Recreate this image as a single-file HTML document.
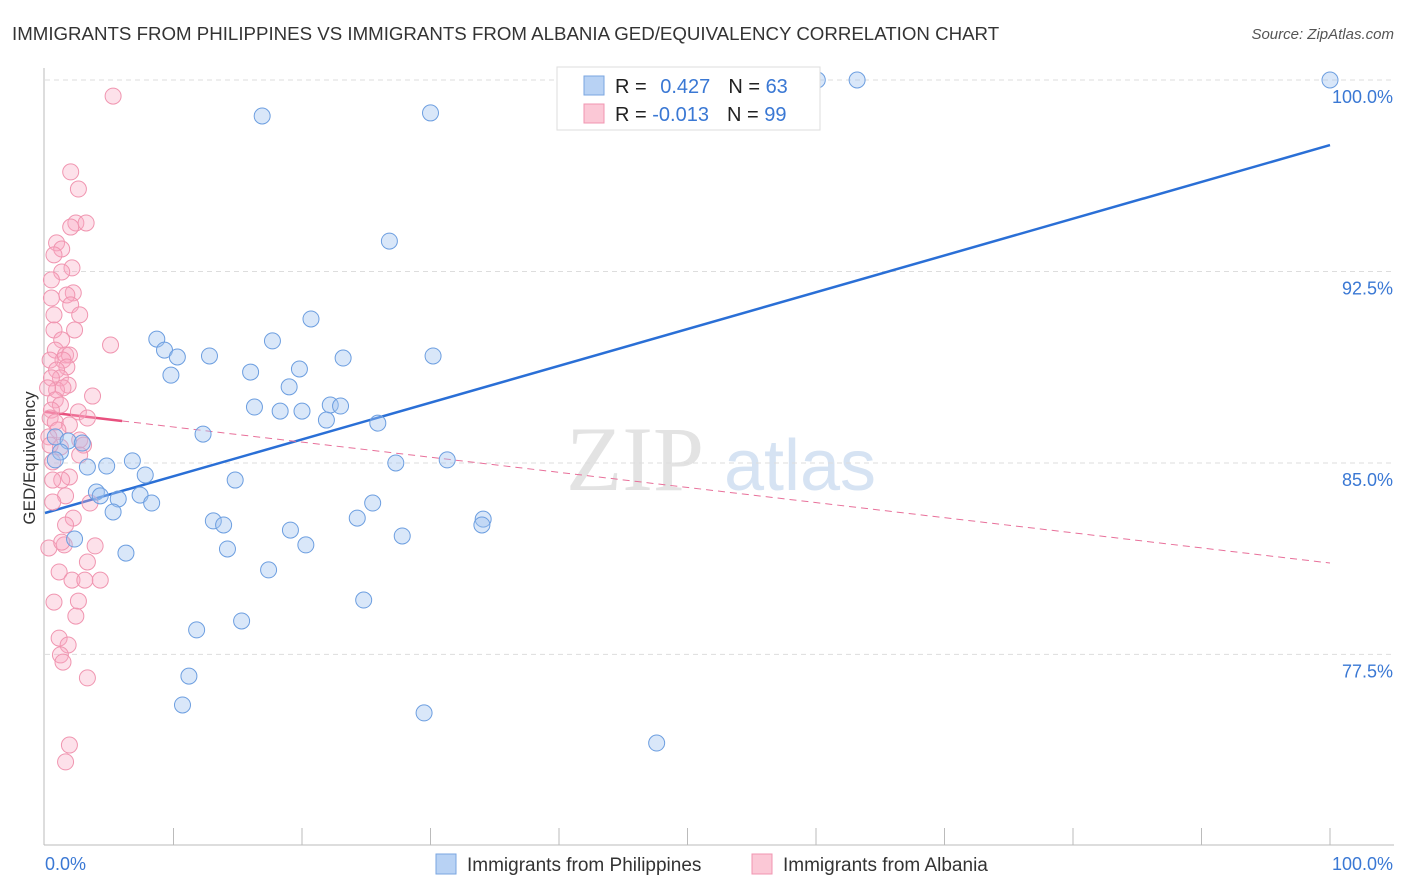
<!DOCTYPE html>
<html><head><meta charset="utf-8"><style>
body{margin:0;background:#fff;font-family:"Liberation Sans",sans-serif}
svg{display:block}
</style></head><body>
<svg id="chart" width="1406" height="892">
<text x="12" y="40" font-size="18.7" fill="#333">IMMIGRANTS FROM PHILIPPINES VS IMMIGRANTS FROM ALBANIA GED/EQUIVALENCY CORRELATION CHART</text>
<text x="1394" y="39" font-size="15" fill="#555" text-anchor="end" font-style="italic">Source: ZipAtlas.com</text>
<text x="35" y="458" font-size="17" fill="#333" text-anchor="middle" transform="rotate(-90 35 458)">GED/Equivalency</text>
<g><text x="635" y="490" font-size="92" fill="#e3e3e3" font-family="Liberation Serif" text-anchor="middle">ZIP</text><text x="800" y="490" font-size="72" fill="#d6e3f3" text-anchor="middle">atlas</text></g>
<g id="grid"></g><g id="axes"></g><g id="trends"></g><g id="pts"></g>
<g>
<rect x="557" y="67" width="263" height="63" fill="#fff" stroke="#ddd"/>
<rect x="584" y="76" width="20" height="19" fill="#b8d2f4" stroke="#7aa6e0"/>
<rect x="584" y="104" width="20" height="19" fill="#fbc8d6" stroke="#f095b0"/>
<text x="615" y="93" font-size="20" fill="#222">R = <tspan fill="#3a78d4" dx="8">0.427</tspan><tspan fill="#222" dx="18">N = </tspan><tspan fill="#3a78d4">63</tspan></text>
<text x="615" y="121" font-size="20" fill="#222">R = <tspan fill="#3a78d4">-0.013</tspan><tspan fill="#222" dx="18">N = </tspan><tspan fill="#3a78d4">99</tspan></text>
</g>
<g>
<rect x="436" y="854" width="20" height="20" fill="#b8d2f4" stroke="#7aa6e0"/>
<text x="467" y="871" font-size="19" fill="#333">Immigrants from Philippines</text>
<rect x="752" y="854" width="20" height="20" fill="#fbc8d6" stroke="#f095b0"/>
<text x="783" y="871" font-size="19" fill="#333">Immigrants from Albania</text>
</g>
</svg>
<script>
const yTicks=[100,92.5,85,77.5];
const yTickLabels=["100.0%","92.5%","85.0%","77.5%"];
const xTickLabels=["0.0%","100.0%"];
const blueX=[16.9,30.0,60.1,63.2,100,26.8,20.7,8.7,9.3,10.3,12.8,17.7,19.8,23.2,30.2,9.8,16.0,19.0,16.3,18.3,20.0,22.2,23.0,21.9,25.9,12.3,0.8,1.8,2.9,1.2,0.8,3.3,4.8,6.8,7.8,27.3,31.3,14.8,4.0,4.3,5.7,7.4,8.3,5.3,25.5,13.1,13.9,19.1,24.3,34.1,34.0,27.8,2.3,20.3,14.2,6.3,17.4,24.8,15.3,11.8,11.2,10.7,29.5,47.6];
const blueY=[98.59,98.71,100,100,100,93.69,90.64,89.85,89.42,89.15,89.19,89.78,88.68,89.11,89.19,88.44,88.56,87.98,87.19,87.03,87.03,87.27,87.23,86.68,86.56,86.13,86.02,85.86,85.78,85.43,85.12,84.84,84.88,85.08,84.53,85.0,85.12,84.33,83.86,83.71,83.59,83.74,83.43,83.08,83.43,82.73,82.57,82.37,82.84,82.80,82.57,82.14,82.02,81.79,81.63,81.47,80.81,79.63,78.81,78.46,76.65,75.52,75.21,74.03];
const pinkX=[5.3,2.0,2.6,2.4,3.2,2.0,0.9,1.3,0.7,2.1,1.3,0.5,2.2,1.7,0.5,2.0,2.7,0.7,2.3,0.7,5.1,1.3,0.8,1.6,1.9,1.4,0.4,1.7,0.9,1.2,0.5,1.8,0.9,1.4,0.2,3.7,0.8,1.2,0.5,2.6,3.3,0.4,0.8,1.9,1.0,0.3,2.7,3.0,1.2,0.4,2.7,0.6,1.9,1.3,0.6,1.6,3.5,0.6,2.2,1.6,0.3,3.9,1.5,1.3,3.3,1.1,2.1,4.3,3.1,2.6,0.7,2.4,1.1,1.8,1.2,1.4,3.3,1.9,1.6];
const pinkY=[99.37,96.40,95.73,94.40,94.40,94.24,93.62,93.38,93.15,92.64,92.48,92.17,91.66,91.58,91.46,91.19,90.80,90.80,90.21,90.21,89.62,89.82,89.42,89.23,89.23,89.03,89.03,88.76,88.64,88.33,88.33,88.05,87.86,87.94,87.94,87.62,87.47,87.27,87.07,87.0,86.76,86.76,86.60,86.49,86.29,86.02,85.90,85.70,85.62,85.70,85.31,85.04,84.45,84.33,84.33,83.71,83.43,83.47,82.84,82.57,81.67,81.75,81.79,81.90,81.12,80.73,80.41,80.41,80.41,79.59,79.55,79.0,78.14,77.87,77.48,77.20,76.58,73.95,73.29];
const blueTrend=[83.04,97.45];
const pinkTrend=[87.0,81.08];
const NS="http://www.w3.org/2000/svg";
const X=v=>45+v*12.85, Y=v=>80+(100-v)*25.53;
function mk(t,a,p){const e=document.createElementNS(NS,t);for(const k in a)e.setAttribute(k,a[k]);p.appendChild(e);return e;}
const grid=document.getElementById('grid'),axes=document.getElementById('axes');
yTicks.forEach((t,i)=>{const l=mk('line',{x1:45,x2:1394,y1:Y(t),y2:Y(t),stroke:'#ddd','stroke-dasharray':'5,4'},grid);


const tx=mk('text',{x:1393,y:Y(t)+23,'font-size':18,fill:'#3a78d4','text-anchor':'end'},axes);tx.textContent=yTickLabels[i];

});
const ax=mk('line',{x1:44,x2:44,y1:68,y2:845,stroke:'#bbb'},axes);


const bx=mk('line',{x1:44,x2:1394,y1:845,y2:845,stroke:'#bbb'},axes);


for(let i=1;i<=10;i++){const t=mk('line',{x1:X(i*10),x2:X(i*10),y1:828,y2:845,stroke:'#bbb'},axes);

}
[[0,'start',45],[1,'end',1393]].forEach(([i,a,x])=>{const t=mk('text',{x:x,y:870,'font-size':18,fill:'#3a78d4','text-anchor':a},axes);t.textContent=xTickLabels[i];

});
const pts=document.getElementById('pts');
function dots(xs,ys,fill,stroke,name){xs.forEach((x,i)=>{const c=mk('circle',{cx:X(x),cy:Y(ys[i]),r:8,fill:fill,stroke:stroke,'stroke-width':1},pts);

});}
dots(pinkX,pinkY,'rgba(248,170,195,0.35)','#f095b0','albania-point');
dots(blueX,blueY,'rgba(160,196,240,0.4)','#6c9ee0','philippines-point');
const tr=document.getElementById('trends');
const b=mk('line',{x1:X(0),y1:Y(blueTrend[0]),x2:X(100),y2:Y(blueTrend[1]),stroke:'#2a6fd6','stroke-width':2.5},tr);


const pm=v=>pinkTrend[0]+(pinkTrend[1]-pinkTrend[0])*v/100;
const p1=mk('line',{x1:X(0),y1:Y(pm(0)),x2:X(6),y2:Y(pm(6)),stroke:'#e8507e','stroke-width':2.5},tr);


const p2=mk('line',{x1:X(6),y1:Y(pm(6)),x2:X(100),y2:Y(pm(100)),stroke:'#e8709a','stroke-width':1,'stroke-dasharray':'7,5'},tr);


</script>
</body></html>
